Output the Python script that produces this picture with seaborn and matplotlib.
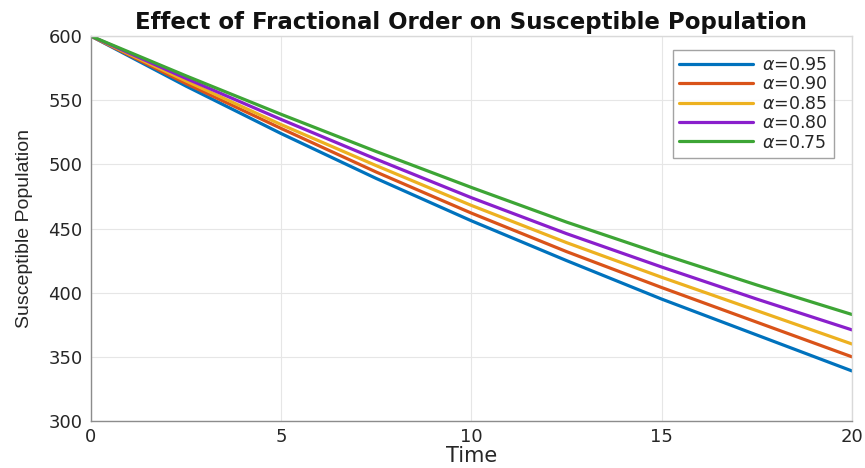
import matplotlib
matplotlib.use("Agg")
import matplotlib.pyplot as plt
import seaborn as sns
import pandas as pd

time = [0, 2.5, 5, 7.5, 10, 12.5, 15, 17.5, 20]
s_095 = [600, 561, 524, 489, 456, 425, 395, 367, 339]
s_090 = [600, 563, 528, 494, 462, 432, 404, 377, 350]
s_085 = [600, 565, 531, 499, 468, 439, 412, 386, 360]
s_080 = [600, 567, 535, 504, 474, 446, 420, 395, 371]
s_075 = [600, 569, 539, 510, 482, 455, 430, 406, 383]
labels = [r"$\alpha$=0.95", r"$\alpha$=0.90", r"$\alpha$=0.85", r"$\alpha$=0.80", r"$\alpha$=0.75"]
series = [s_095, s_090, s_085, s_080, s_075]
colors = ["#0072BD", "#D95319", "#EDB120", "#8A1FCC", "#3DA535"]

rows = []
for lab, vals in zip(labels, series):
    for t, v in zip(time, vals):
        rows.append({"Time": t, "S": v, "alpha": lab})
df = pd.DataFrame(rows)

sns.set_style("white")
plt.rcParams["font.family"] = ["DejaVu Sans"]
plt.rcParams["mathtext.fontset"] = "dejavusans"

fig = plt.figure(figsize=(8.65, 4.68), dpi=100)
ax = fig.add_axes([0.105, 0.1004, 0.880, 0.8226])
sns.lineplot(data=df, x="Time", y="S", hue="alpha", hue_order=labels,
             palette=colors, linewidth=2.3, ax=ax)

ax.set_xlim(0, 20)
ax.set_ylim(300, 600)
ax.set_xticks([0, 5, 10, 15, 20])
ax.set_yticks([300, 350, 400, 450, 500, 550, 600])
ax.grid(True, color="#e6e6e6", linewidth=0.8)
ax.set_axisbelow(True)
ax.tick_params(direction="in", length=5, labelsize=13, colors="#262626")
ax.tick_params(axis="y", pad=6)
ax.tick_params(axis="x", pad=5)
for s in ["left", "bottom"]:
    ax.spines[s].set_color("#8c8c8c")
    ax.spines[s].set_linewidth(1.0)
for s in ["top", "right"]:
    ax.spines[s].set_color("#d9d9d9")
    ax.spines[s].set_linewidth(1.0)

ax.set_xlabel("Time", fontsize=15, labelpad=0, color="#262626")
ax.set_ylabel("Susceptible Population", fontsize=14, labelpad=11, color="#262626",
              family=["Liberation Sans", "DejaVu Sans"])
ax.set_title("Effect of Fractional Order on Susceptible Population",
             fontsize=16.5, fontweight="bold", pad=5, color="#111111")

leg = ax.legend(loc="upper right", bbox_to_anchor=(0.976, 0.964), fontsize=12.5,
                handlelength=4.3, frameon=True, fancybox=False, edgecolor="#8c8c8c",
                borderaxespad=0.0, labelspacing=0.08, borderpad=0.35,
                handletextpad=0.5)
leg.get_frame().set_linewidth(1.0)

fig.savefig("out.png", dpi=100)
